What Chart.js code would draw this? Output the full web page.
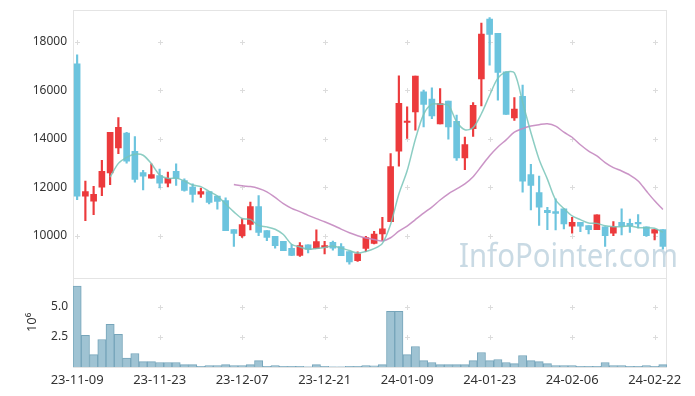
<!DOCTYPE html>
<html>
<head>
<meta charset="utf-8">
<script src="https://cdn.jsdelivr.net/npm/chart.js@4.4.1/dist/chart.umd.min.js"></script>
<style>
  html, body { margin: 0; padding: 0; background: #fff; }
</style>
</head>
<body>
<canvas id="chart" width="695" height="396"></canvas>
<script>
// trading days shown on the x axis
const dates = [
  "23-11-09","23-11-10","23-11-13","23-11-14","23-11-15","23-11-16","23-11-17","23-11-20","23-11-21","23-11-22",
  "23-11-23","23-11-24","23-11-27","23-11-28","23-11-29","23-11-30","23-12-01","23-12-04","23-12-05","23-12-06",
  "23-12-07","23-12-08","23-12-11","23-12-12","23-12-13","23-12-14","23-12-15","23-12-18","23-12-19","23-12-20",
  "23-12-21","23-12-22","23-12-26","23-12-27","23-12-28","24-01-02","24-01-03","24-01-04","24-01-05","24-01-08",
  "24-01-09","24-01-10","24-01-11","24-01-12","24-01-15","24-01-16","24-01-17","24-01-18","24-01-19","24-01-22",
  "24-01-23","24-01-24","24-01-25","24-01-26","24-01-29","24-01-30","24-01-31","24-02-01","24-02-02","24-02-05",
  "24-02-06","24-02-07","24-02-08","24-02-13","24-02-14","24-02-15","24-02-16","24-02-19","24-02-20","24-02-21",
  "24-02-22","24-02-23"
];

const opens = [
  17080,11640,11430,12010,12590,13620,14230,13480,12610,12380,
  12490,12170,12660,12280,12010,11720,11830,11640,11460,10260,
  10010,10480,11210,10220,9980,9780,9490,9200,9640,9490,
  9530,9740,9560,9360,8980,9490,9690,10080,10590,13490,
  14670,15110,15930,15630,14610,15550,14720,13210,14420,16460,
  18930,18340,16760,14860,15750,12530,11790,11050,11000,11120,
  10400,10560,10430,10260,10380,10110,10560,10520,10560,10380,
  10110,10260
];
const highs = [
  17450,12260,12040,13110,14270,14870,14270,14090,12700,12970,
  12750,12630,12970,12350,12150,11970,11830,11640,11570,10260,
  10700,11390,11660,10220,9980,9780,9650,9730,9640,10250,
  9780,9790,9690,9360,9350,9980,10190,10770,13390,16590,
  15310,16580,16000,16100,16070,15550,14970,14070,15490,18760,
  18990,18340,16760,15700,16210,12950,12460,11180,11530,11120,
  10770,10560,10430,10870,10380,10590,11120,10690,10880,10380,
  10260,10260
];
const lows = [
  11490,10630,10880,11660,12110,13390,13000,12210,11900,12380,
  11980,12020,12080,11840,11390,11590,11320,11100,10220,9570,
  9940,10250,10010,9810,9500,9390,9190,9160,9300,9490,
  9260,9420,9190,8840,8950,9350,9670,9810,10590,12870,
  14010,14350,14490,14830,14610,13980,13110,12730,14100,15350,
  17030,15590,15000,14760,11800,11070,10430,10260,10250,10290,
  10110,10180,10080,10260,9570,10010,10040,10150,10330,9980,
  9840,9460
];
const closes = [
  11640,11830,11710,12660,14270,14470,13080,12330,12460,12530,
  12170,12370,12370,11870,11710,11830,11380,11420,10220,10100,
  10470,11210,10150,9940,9600,9390,9200,9600,9460,9770,
  9600,9500,9190,8930,9260,9930,10080,10290,12860,15460,
  14720,16580,15410,14940,15450,14490,13210,13760,15380,18310,
  18300,16730,15000,15220,12260,12080,11180,10960,10930,10500,
  10560,10400,10260,10870,10010,10380,10400,10410,10500,10010,
  10260,9570
];
const volumes = [
  6700000,2620000,1030000,2280000,3530000,2700000,730000,1120000,450000,450000,
  370000,370000,370000,200000,200000,60000,120000,120000,200000,120000,
  120000,200000,530000,60000,120000,60000,60000,60000,20000,200000,
  60000,20000,20000,50000,50000,120000,100000,200000,4620000,4620000,
  1030000,1700000,530000,370000,200000,200000,200000,200000,530000,1200000,
  530000,620000,370000,280000,950000,530000,450000,280000,120000,120000,
  120000,50000,50000,50000,370000,120000,120000,50000,50000,120000,
  50000,200000
];

const priceTicks = [10000, 12000, 14000, 16000, 18000];
const volumeTicks = [2500000, 5000000];
const xTickEvery = 10;

// moving averages of the closing price
function movingAverage(values, n) {
  return values.map((v, i) => {
    if (i < n - 1) return null;
    let s = 0;
    for (let k = i - n + 1; k <= i; k++) s += values[k];
    return s / n;
  });
}
const ma5 = movingAverage(closes, 5);
const ma20 = movingAverage(closes, 20);

const upColor = "#ec3a3c";
const downColor = "#6cc4de";
const candleColors = closes.map((c, i) => (c >= opens[i] ? upColor : downColor));

const font = { family: "'Noto Sans', sans-serif", size: 12 };
const textColor = "#333";

// panel borders, grid crosses and the watermark
const backdrop = {
  id: "backdrop",
  beforeDatasetsDraw(chart) {
    const { ctx, chartArea: a, scales } = chart;
    const x = scales.x, y = scales.y, yv = scales.yv;
    ctx.save();
    ctx.strokeStyle = "#e4e4e4";
    ctx.lineWidth = 1;
    ctx.strokeRect(a.left + 0.5, a.top + 0.5, a.right - a.left - 1, a.bottom - a.top);
    ctx.beginPath();
    ctx.moveTo(a.left, Math.round(y.bottom) + 0.5);
    ctx.lineTo(a.right, Math.round(y.bottom) + 0.5);
    ctx.stroke();

    ctx.strokeStyle = "#dcdcdc";
    const cross = (cx, cy) => {
      ctx.beginPath();
      ctx.moveTo(cx - 2.5, cy); ctx.lineTo(cx + 2.5, cy);
      ctx.moveTo(cx, cy - 2.5); ctx.lineTo(cx, cy + 2.5);
      ctx.stroke();
    };
    x.ticks.forEach(t => {
      const cx = Math.round(x.getPixelForValue(t.value)) + 0.5;
      priceTicks.forEach(v => cross(cx, Math.round(y.getPixelForValue(v)) + 0.5));
      volumeTicks.forEach(v => cross(cx, Math.round(yv.getPixelForValue(v)) + 0.5));
    });

    ctx.font = "33px 'Noto Sans', sans-serif";
    ctx.fillStyle = "rgba(165, 193, 210, 0.6)";
    ctx.textBaseline = "alphabetic";
    const text = "InfoPointer.com";
    const w = ctx.measureText(text).width;
    ctx.translate(459, 267);
    ctx.scale(219 / w, 1);
    ctx.fillText(text, 0, 0);
    ctx.restore();
  }
};

new Chart(document.getElementById("chart"), {
  type: "bar",
  data: {
    labels: dates,
    datasets: [
      { type: "line", label: "MA5", data: ma5, yAxisID: "y", borderColor: "rgba(120,196,184,0.85)",
        borderWidth: 1.5, pointRadius: 0, tension: 0.3, order: 0 },
      { type: "line", label: "MA20", data: ma20, yAxisID: "y", borderColor: "rgba(196,136,192,0.9)",
        borderWidth: 1.5, pointRadius: 0, tension: 0.3, order: 0 },
      { label: "wick", data: lows.map((l, i) => [l, highs[i]]), yAxisID: "y", backgroundColor: candleColors,
        barThickness: 1.5, grouped: false, order: 2 },
      { label: "body", data: opens.map((o, i) => [o, closes[i]]), yAxisID: "y", backgroundColor: candleColors,
        barThickness: 6, minBarLength: 1.5, grouped: false, order: 1 },
      { label: "volume", data: volumes, yAxisID: "yv", backgroundColor: "#9fc3d3", borderColor: "#76a5ba",
        borderWidth: 1, categoryPercentage: 1, barPercentage: 1, grouped: false, order: 1 }
    ]
  },
  options: {
    responsive: false,
    animation: false,
    devicePixelRatio: 1,
    layout: { padding: { top: 10, right: 28, left: 0, bottom: 0 } },
    plugins: { legend: { display: false }, tooltip: { enabled: false } },
    scales: {
      x: {
        type: "category",
        offset: true,
        grid: { display: false, drawTicks: false },
        border: { display: false },
        ticks: { autoSkip: false, maxRotation: 0, padding: 5, color: textColor,
                 font: { family: font.family, size: 13 } },
        afterBuildTicks: s => { s.ticks = s.ticks.filter(t => t.value % xTickEvery === 0); },
        afterFit: s => { s.height = 29; s.paddingLeft = 0; s.paddingRight = 0; }
      },
      yv: {
        position: "left",
        stack: "panes",
        stackWeight: 1,
        min: 0,
        max: 7400000,
        grid: { display: false, drawTicks: false },
        border: { display: false },
        title: { display: true, text: "10\u2076", color: textColor, font: { family: font.family, size: 13 },
                 padding: { top: 24, bottom: 0 } },
        ticks: { padding: 5, color: textColor, font, callback: v => (v / 1e6).toFixed(1) },
        afterBuildTicks: s => { s.ticks = volumeTicks.map(v => ({ value: v })); },
        afterFit: s => { s.width = 73; s.paddingTop = 0; s.paddingBottom = 0; }
      },
      y: {
        position: "left",
        stack: "panes",
        stackWeight: 3,
        min: 8280,
        max: 19300,
        grid: { display: false, drawTicks: false },
        border: { display: false },
        ticks: { padding: 6, color: textColor, font, callback: v => String(v) },
        afterBuildTicks: s => { s.ticks = priceTicks.map(v => ({ value: v })); },
        afterFit: s => { s.width = 73; s.paddingTop = 0; s.paddingBottom = 0; }
      }
    }
  },
  plugins: [backdrop]
});
</script>
</body>
</html>
